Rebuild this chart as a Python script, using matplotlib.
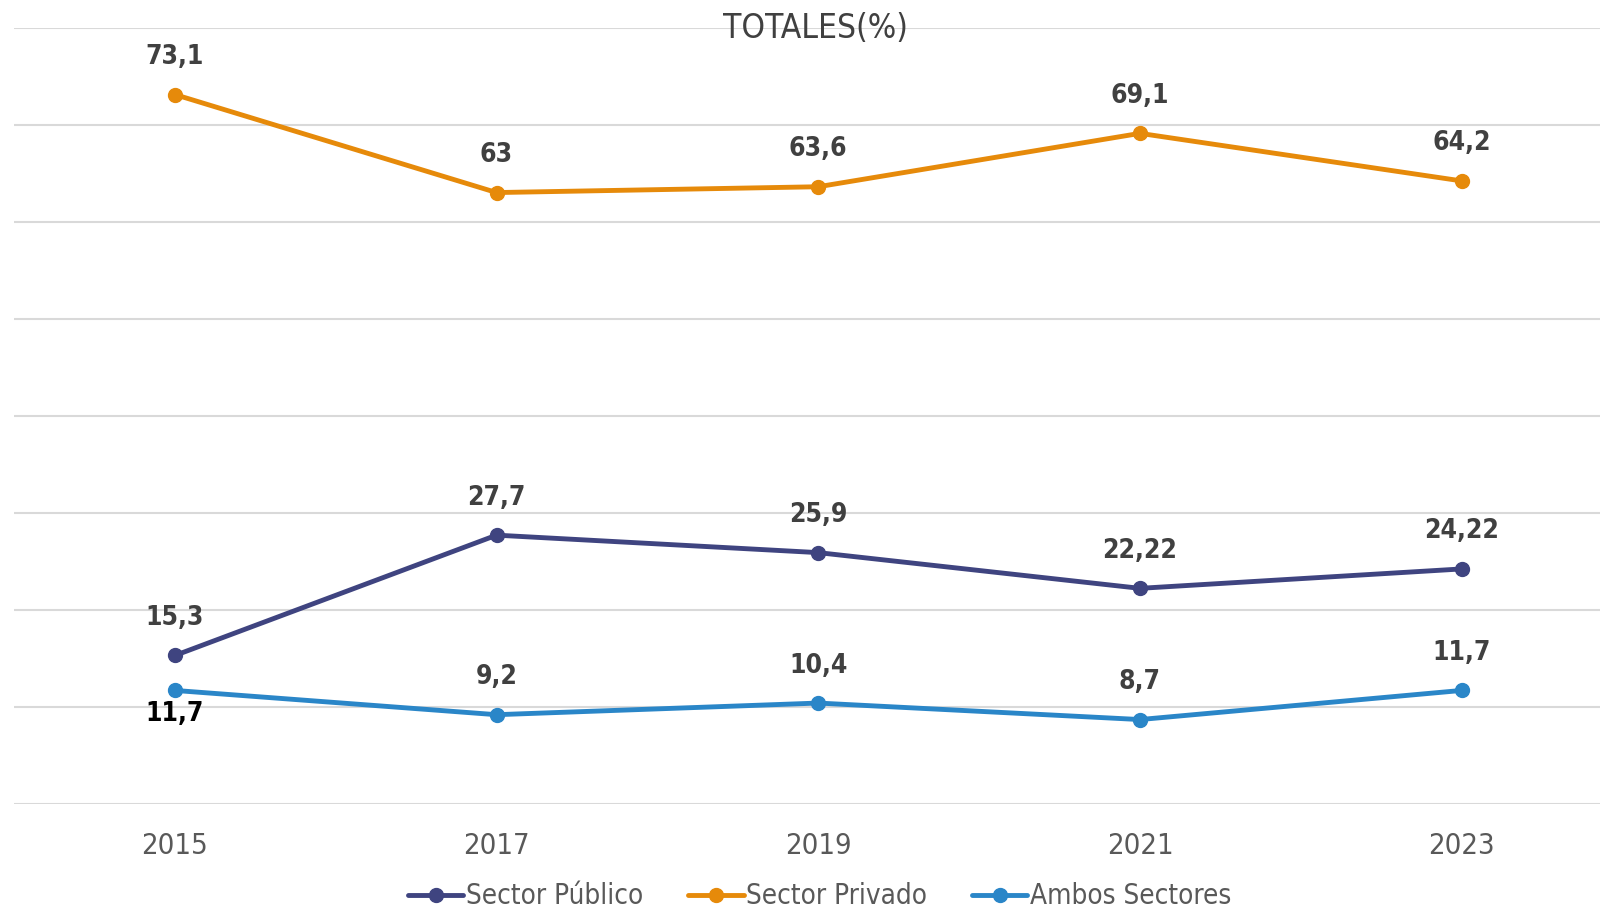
import matplotlib
matplotlib.use("Agg")
import matplotlib.pyplot as plt

years = ["2015", "2017", "2019", "2021", "2023"]
publico = [15.3, 27.7, 25.9, 22.22, 24.22]
privado = [73.1, 63, 63.6, 69.1, 64.2]
ambos = [11.7, 9.2, 10.4, 8.7, 11.7]
labels_pub = ["15,3", "27,7", "25,9", "22,22", "24,22"]
labels_priv = ["73,1", "63", "63,6", "69,1", "64,2"]
labels_amb = ["11,7", "9,2", "10,4", "8,7", "11,7"]

FAM = ["DejaVu Sans Condensed", "Liberation Sans Narrow", "DejaVu Sans"]
plt.rcParams["font.family"] = FAM
plt.rcParams["font.stretch"] = "condensed"

fig = plt.figure(figsize=(16, 9.13), dpi=100)
ax = fig.add_axes([0.00875, 0.1194, 0.99125, 0.8504])

x = list(range(len(years)))
series = [
    (publico, labels_pub, "#3F4480", "Sector Público"),
    (privado, labels_priv, "#E68A0A", "Sector Privado"),
    (ambos, labels_amb, "#2A86C8", "Ambos Sectores"),
]
for vals, labs, col, name in series:
    ax.plot(x, vals, color=col, lw=3.5, marker="o", ms=10, label=name,
            solid_capstyle="round", zorder=3)
    for i, (v, t) in enumerate(zip(vals, labs)):
        dy = 27
        c = "#404040"
        if name == "Ambos Sectores" and i == 0:
            dy = -17
            c = "black"
        ax.annotate(t, (i, v), xytext=(0, dy), textcoords="offset points",
                    ha="center", va="center", fontsize=19, fontweight="bold",
                    color=c)

ax.set_ylim(0, 80)
ax.set_xlim(-0.5, 4.43)
ax.set_yticks(range(0, 81, 10))
ax.set_yticklabels([])
ax.tick_params(axis="y", length=0)
ax.tick_params(axis="x", length=0, labelsize=21, labelcolor="#595959", pad=20)
ax.set_xticks(x)
ax.set_xticklabels(years)
ax.grid(axis="y", color="#D9D9D9", lw=1.5)
ax.set_axisbelow(True)
for s in ax.spines.values():
    s.set_visible(False)

ax.text(0.5055, 0.999, "TOTALES(%)", transform=ax.transAxes, ha="center",
        va="center", fontsize=24, color="#404040")

ax.legend(loc="center", bbox_to_anchor=(0.508, -0.119), ncol=3, frameon=False,
          fontsize=20, labelcolor="#595959", handlelength=2.0, handletextpad=0.1,
          columnspacing=1.6)

fig.savefig("out.png", dpi=100)
